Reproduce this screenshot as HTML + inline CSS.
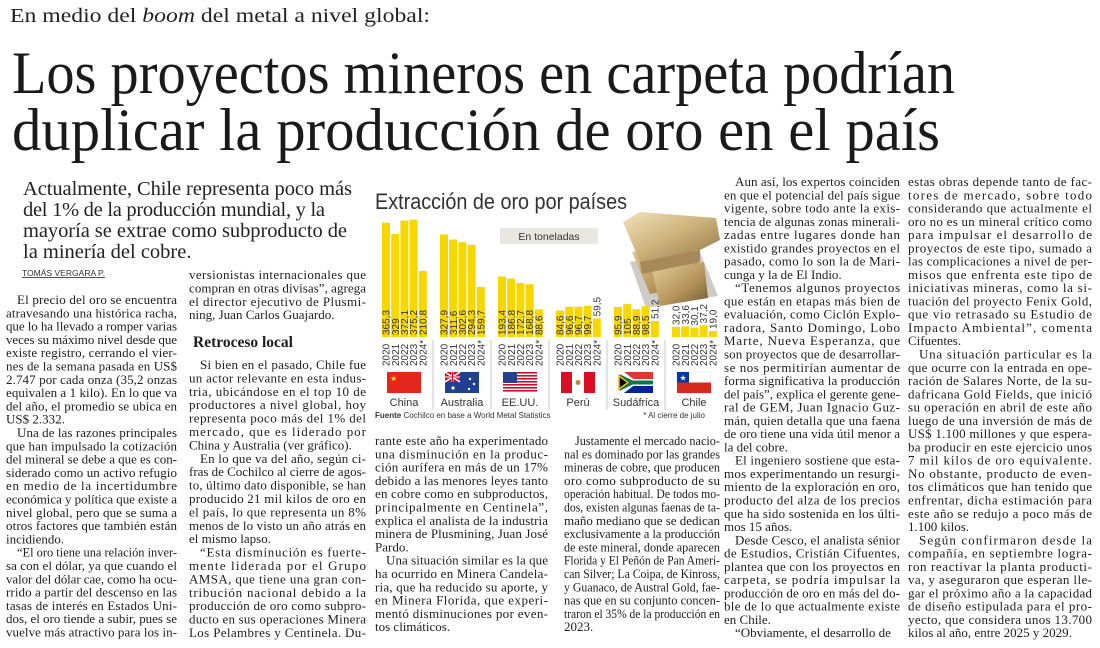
<!DOCTYPE html>
<html><head><meta charset="utf-8">
<style>
html,body{margin:0;padding:0;background:#fff;}
svg{display:block;}
.b{font-family:"Liberation Serif",serif;font-size:13px;fill:#1e1e1e;}
.sans{font-family:"Liberation Sans",sans-serif;}
</style></head>
<body>
<svg id="page" width="1100" height="648" viewBox="0 0 1100 648" xmlns="http://www.w3.org/2000/svg">
<defs>
<linearGradient id="gold1" x1="0" y1="0" x2="1" y2="1"><stop offset="0" stop-color="#f2e2bd"/><stop offset="0.5" stop-color="#cdb27a"/><stop offset="1" stop-color="#8d7446"/></linearGradient>
<linearGradient id="gold2" x1="0" y1="0" x2="1" y2="1"><stop offset="0" stop-color="#e6d09a"/><stop offset="0.6" stop-color="#b4935a"/><stop offset="1" stop-color="#6e5830"/></linearGradient>
</defs>
<text x="10" y="22" font-family="Liberation Serif,serif" font-size="20" fill="#222" textLength="420" lengthAdjust="spacingAndGlyphs">En medio del <tspan font-style="italic">boom</tspan> del metal a nivel global:</text>
<text x="12" y="93" font-family="Liberation Serif,serif" font-size="60" fill="#1a1a1a" textLength="943" lengthAdjust="spacingAndGlyphs">Los proyectos mineros en carpeta podrían</text>
<text x="12" y="150" font-family="Liberation Serif,serif" font-size="60" fill="#1a1a1a" textLength="928" lengthAdjust="spacingAndGlyphs">duplicar la producción de oro en el país</text>
<g font-family="Liberation Serif,serif" font-size="20.5" fill="#222">
<text x="23" y="195" textLength="329" lengthAdjust="spacing">Actualmente, Chile representa poco más</text>
<text x="23" y="216" textLength="302" lengthAdjust="spacing">del 1% de la producción mundial, y la</text>
<text x="23" y="237" textLength="324" lengthAdjust="spacing">mayoría se extrae como subproducto de</text>
<text x="23" y="258">la minería del cobre.</text>
</g>
<text x="22" y="276" class="sans" font-size="8.5" fill="#333" text-decoration="underline" textLength="83" lengthAdjust="spacingAndGlyphs">TOMÁS VERGARA P.</text>
<text x="193" y="347" font-family="Liberation Serif,serif" font-weight="bold" font-size="15.5" fill="#1e1e1e">Retroceso local</text>
<g id="body"></g>

<g id="chart">
<text x="375" y="209" class="sans" font-size="22" fill="#333" textLength="252" lengthAdjust="spacingAndGlyphs">Extracción de oro por países</text>
<rect x="500" y="228" width="98" height="16" fill="#e9e7e1"/>
<text x="549" y="240" class="sans" font-size="10.5" fill="#333" text-anchor="middle">En toneladas</text>
<g>
<polygon points="630,262 700,252 718,296 646,308" fill="#5e5040" opacity="0.3"/>
<polygon points="632,252 690,244 706,282 650,294" fill="url(#gold2)"/>
<polygon points="652,270 704,262 708,298 660,306" fill="url(#gold2)"/>
<polygon points="623,222 640,212 716,218 720,240 700,250 640,262" fill="url(#gold1)"/>
<polygon points="640,262 700,250 700,262 642,274" fill="#a8895a"/>
</g>
<g id="bars"></g>
<text x="375" y="418" class="sans" font-size="8" fill="#333"><tspan font-weight="bold">Fuente</tspan>  Cochilco en base a World Metal Statistics</text>
<text x="705" y="418" class="sans" font-size="8" fill="#333" text-anchor="end">* Al cierre de julio</text>
</g>
</svg>
<script>
const countries = ["China","Australia","EE.UU.","Perú","Sudáfrica","Chile"];
const years = ["2020","2021","2022","2023","2024*"];
const chinaValues = [365.3,329.0,372.1,375.2,210.8];
const australiaValues = [327.9,311.6,302.6,294.3,159.7];
const usaValues = [193.4,186.8,172.7,168.8,88.6];
const peruValues = [84.6,96.6,96.7,99.7,59.5];
const southAfricaValues = [95.9,105,88.9,98.5,51.2];
const chileValues = [32.0,33.6,30.1,37.2,19.0];
const seriesValues = [chinaValues,australiaValues,usaValues,peruValues,southAfricaValues,chileValues];

const NS="http://www.w3.org/2000/svg";
function mk(tag,attrs,parent){const e=document.createElementNS(NS,tag);for(const k in attrs)e.setAttribute(k,attrs[k]);parent.appendChild(e);return e;}
const baseY=337, pxPerT=0.3129;
const yScale=v=>baseY-v*pxPerT;
const groupX=i=>382+i*58;
const barX=(i,j)=>groupX(i)+j*9.2;
const fmt=v=>(Number.isInteger(v)&&v>=100)?String(v):v.toFixed(1).replace('.',',');
const bars=document.getElementById('bars');
seriesValues.forEach((vals,i)=>{
  vals.forEach((v,j)=>{
    const x=barX(i,j), top=yScale(v);
    const r=mk('rect',{x:x,y:top,width:8,height:baseY-top,fill:'#f6d700'},bars);
    
    
    const label=fmt(v);
    const lw=label.length*5.4+4;
    const inside=(baseY-top)>lw;
    const ly=inside?baseY-2:top-2;
    const t=mk('text',{x:0,y:0,transform:'translate('+(x+7.6)+','+ly+') rotate(-90)',class:'sans','font-size':'10',fill:'#333'},bars);
    t.textContent=label;
    
    
    const yt=mk('text',{x:0,y:0,transform:'translate('+(x+7.6)+',366) rotate(-90)',class:'sans','font-size':'10',fill:'#333'},bars);
    yt.textContent=years[j];
    
    
  });
  const cx=groupX(i)+22;
  const nm=mk('text',{x:cx,y:406,class:'sans','font-size':'11',fill:'#333','text-anchor':'middle'},bars);
  nm.textContent=countries[i];
  
  
  if(i>0){
    const s=mk('line',{x1:groupX(i)-7,x2:groupX(i)-7,y1:340,y2:410,stroke:'#bbb','stroke-width':'0.8'},bars);
    
    
  }
  const f=mk('g',{transform:'translate('+(cx-17)+',372)'},bars);
  
  
  const W=34,H=21;
  if(i===0){mk('rect',{width:W,height:H,fill:'#e4261c'},f);mk('text',{x:3,y:9,'font-size':'8',fill:'#ffde00'},f).textContent='★';}
  if(i===1){mk('rect',{width:W,height:H,fill:'#1f3f8f'},f);mk('rect',{width:15,height:10,fill:'#c8102e'},f);mk('path',{d:'M0 0L15 10M15 0L0 10',stroke:'#fff','stroke-width':'1.6'},f);mk('path',{d:'M7.5 0V10M0 5H15',stroke:'#fff','stroke-width':'2'},f);mk('path',{d:'M7.5 0V10M0 5H15',stroke:'#c8102e','stroke-width':'1'},f);mk('circle',{cx:25,cy:7,r:1.2,fill:'#fff'},f);mk('circle',{cx:29,cy:12,r:1.2,fill:'#fff'},f);mk('circle',{cx:24,cy:17,r:1.2,fill:'#fff'},f);mk('circle',{cx:8,cy:16,r:1.6,fill:'#fff'},f);}
  if(i===2){mk('rect',{width:W,height:H,fill:'#fff'},f);for(let k=0;k<7;k++)mk('rect',{y:k*3,width:W,height:1.6,fill:'#c8102e'},f);mk('rect',{width:14,height:11,fill:'#27408b'},f);}
  if(i===3){mk('rect',{width:W,height:H,fill:'#fff'},f);mk('rect',{width:11,height:H,fill:'#d91023'},f);mk('rect',{x:23,width:11,height:H,fill:'#d91023'},f);mk('circle',{cx:17,cy:10.5,r:2.5,fill:'#b88a3e'},f);}
  if(i===4){mk('rect',{width:W,height:H,fill:'#fff'},f);mk('rect',{width:W,height:7,fill:'#de3831'},f);mk('rect',{y:14,width:W,height:7,fill:'#002395'},f);mk('path',{d:'M0 0L14 10.5L0 21',fill:'none',stroke:'#fff','stroke-width':'6'},f);mk('path',{d:'M0 4L13 10.5H34M0 17L13 10.5',fill:'none',stroke:'#007a4d','stroke-width':'4'},f);mk('path',{d:'M0 4L9 10.5L0 17Z',fill:'#000',stroke:'#ffb612','stroke-width':'1.5'},f);}
  if(i===5){mk('rect',{width:W,height:H,fill:'#fff',stroke:'#ddd','stroke-width':'0.5'},f);mk('rect',{y:10.5,width:W,height:10.5,fill:'#d52b1e'},f);mk('rect',{width:12,height:10.5,fill:'#0039a6'},f);mk('text',{x:2.5,y:8.5,'font-size':'8',fill:'#fff'},f).textContent='★';}
});

const cols=[
 {x:6,w:171,y:304,lh:13.3,lines:["^El precio del oro se encuentra","atravesando una histórica racha,","que lo ha llevado a romper varias","veces su máximo nivel desde que","existe registro, cerrando el vier-","nes de la semana pasada en US$","2.747 por cada onza (35,2 onzas","equivalen a 1 kilo). En lo que va","del año, el promedio se ubica en","US$ 2.332.|","^Una de las razones principales","que han impulsado la cotización","del mineral se debe a que es con-","siderado como un activo refugio","en medio de la incertidumbre","económica y política que existe a","nivel global, pero que se suma a","otros factores que también están","incidiendo.|","^“El oro tiene una relación inver-","sa con el dólar, ya que cuando el","valor del dólar cae, como ha ocu-","rrido a partir del descenso en las","tasas de interés en Estados Uni-","dos, el oro tiende a subir, pues se","vuelve más atractivo para los in-"]},
 {x:189,w:177,y:279,lh:13.4,lines:["versionistas internacionales que","compran en otras divisas”, agrega","el director ejecutivo de Plusmi-","ning, Juan Carlos Guajardo.|"]},
 {x:189,w:177,y:369,lh:13.4,lines:["^Si bien en el pasado, Chile fue","un actor relevante en esta indus-","tria, ubicándose en el top 10 de","productores a nivel global, hoy","representa poco más del 1% del","mercado, que es liderado por","China y Australia (ver gráfico).|","^En lo que va del año, según ci-","fras de Cochilco al cierre de agos-","to, último dato disponible, se han","producido 21 mil kilos de oro en","el país, lo que representa un 8%","menos de lo visto un año atrás en","el mismo lapso.|","^“Esta disminución es fuerte-","mente liderada por el Grupo","AMSA, que tiene una gran con-","tribución nacional debido a la","producción de oro como subpro-","ducto en sus operaciones Minera","Los Pelambres y Centinela. Du-"]},
 {x:375,w:173,y:445,lh:13.3,lines:["rante este año ha experimentado","una disminución en la produc-","ción aurífera en más de un 17%","debido a las menores leyes tanto","en cobre como en subproductos,","principalmente en Centinela”,","explica el analista de la industria","minera de Plusmining, Juan José","Pardo.|","^Una situación similar es la que","ha ocurrido en Minera Candela-","ria, que ha reducido su aporte, y","en Minera Florida, que experi-","mentó disminuciones por even-","tos climáticos.|"]},
 {x:564,w:156,y:445,lh:13.3,lines:["^Justamente el mercado nacio-","nal es dominado por las grandes","mineras de cobre, que producen","oro como subproducto de su","operación habitual. De todos mo-","dos, existen algunas faenas de ta-","maño mediano que se dedican","exclusivamente a la producción","de este mineral, donde aparecen","Florida y El Peñón de Pan Ameri-","can Silver; La Coipa, de Kinross,","y Guanaco, de Austral Gold, fae-","nas que en su conjunto concen-","traron el 35% de la producción en","2023.|"]},
 {x:724,w:176,y:186,lh:13.27,lines:["^Aun así, los expertos coinciden","en que el potencial del país sigue","vigente, sobre todo ante la exis-","tencia de algunas zonas minerali-","zadas entre lugares donde han","existido grandes proyectos en el","pasado, como lo son la de Mari-","cunga y la de El Indio.|","^“Tenemos algunos proyectos","que están en etapas más bien de","evaluación, como Ciclón Explo-","radora, Santo Domingo, Lobo","Marte, Nueva Esperanza, que","son proyectos que de desarrollar-","se nos permitirían aumentar de","forma significativa la producción","del país”, explica el gerente gene-","ral de GEM, Juan Ignacio Guz-","mán, quien detalla que una faena","de oro tiene una vida útil menor a","la del cobre.|","^El ingeniero sostiene que esta-","mos experimentando un resurgi-","miento de la exploración en oro,","producto del alza de los precios","que ha sido sostenida en los últi-","mos 15 años.|","^Desde Cesco, el analista sénior","de Estudios, Cristián Cifuentes,","plantea que con los proyectos en","carpeta, se podría impulsar la","producción de oro en más del do-","ble de lo que actualmente existe","en Chile.|","^“Obviamente, el desarrollo de|"]},
 {x:908,w:184,y:186,lh:13.27,lines:["estas obras depende tanto de fac-","tores de mercado, sobre todo","considerando que actualmente el","oro no es un mineral crítico como","para impulsar el desarrollo de","proyectos de este tipo, sumado a","las complicaciones a nivel de per-","misos que enfrenta este tipo de","iniciativas mineras, como la si-","tuación del proyecto Fenix Gold,","que vio retrasado su Estudio de","Impacto Ambiental”, comenta","Cifuentes.|","^Una situación particular es la","que ocurre con la entrada en ope-","ración de Salares Norte, de la su-","dafricana Gold Fields, que inició","su operación en abril de este año","luego de una inversión de más de","US$ 1.100 millones y que espera-","ba producir en este ejercicio unos","7 mil kilos de oro equivalente.","No obstante, producto de even-","tos climáticos que han tenido que","enfrentar, dicha estimación para","este año se redujo a poco más de","1.100 kilos.|","^Según confirmaron desde la","compañía, en septiembre logra-","ron reactivar la planta producti-","va, y aseguraron que esperan lle-","gar el próximo año a la capacidad","de diseño estipulada para el pro-","yecto, que considera unos 13.700","kilos al año, entre 2025 y 2029.|"]}
];
const body=document.getElementById('body');
cols.forEach((c)=>{
  c.lines.forEach((ln,k)=>{
    let s=ln, ind=0, last=false;
    if(s[0]==='^'){s=s.slice(1);ind=11;}
    if(s.endsWith('|')){s=s.slice(0,-1);last=true;}
    const t=mk('text',{x:c.x+ind,y:(c.y+k*c.lh).toFixed(1),class:'b'},body);
    t.textContent=s;
    
    
    const nat=t.getComputedTextLength();
    const target=c.w-ind;
    if(!last || nat>target){
      t.setAttribute('textLength',target);
      t.setAttribute('lengthAdjust', nat>target*1.04 ? 'spacingAndGlyphs' : 'spacing');
    }
  });
});
</script>
</body></html>
